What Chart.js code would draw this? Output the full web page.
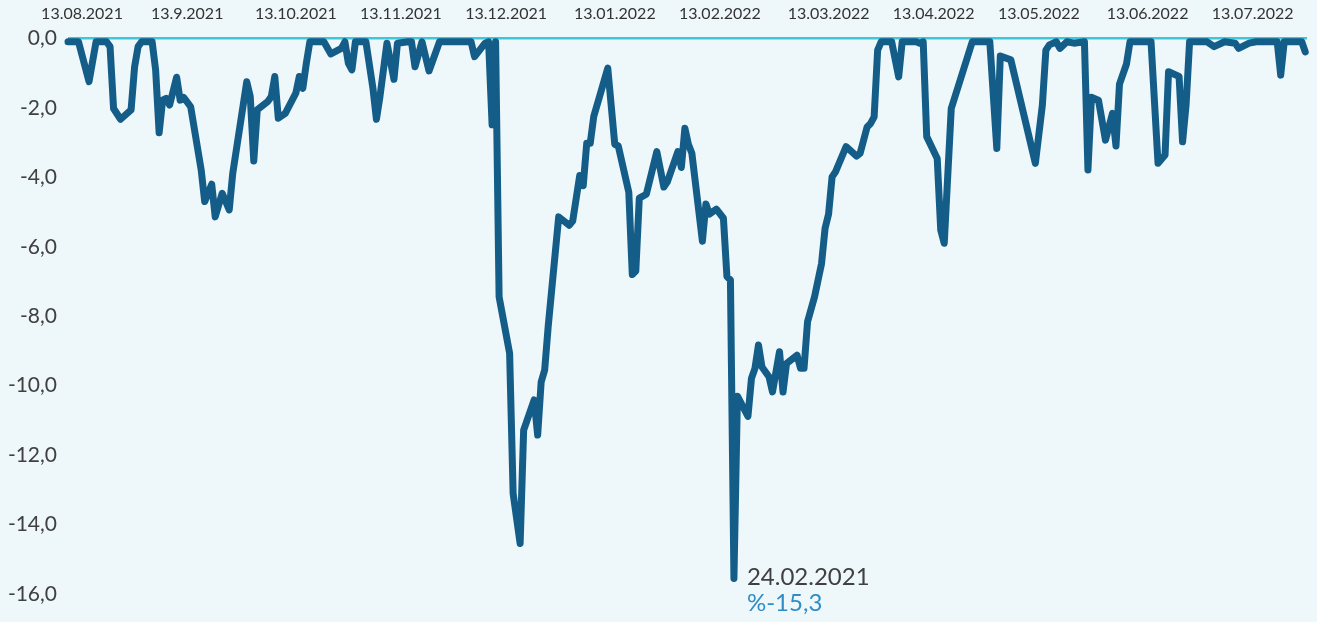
<!DOCTYPE html>
<html><head><meta charset="utf-8">
<script src="https://cdn.jsdelivr.net/npm/chart.js@4.4.1/dist/chart.umd.min.js"></script>
<style>
html,body{margin:0;padding:0;background:#eef7fa;}
#wrap{position:relative;width:1317px;height:622px;}
</style></head><body>
<div id="wrap"><canvas id="c"></canvas></div>
<script>
const tickLabels = ['13.08.2021','13.9.2021','13.10.2021','13.11.2021','13.12.2021','13.01.2022','13.02.2022','13.03.2022','13.04.2022','13.05.2022','13.06.2022','13.07.2022'];
const tickPositions = [4,34,65,95,125,156,186,217,247,277,308,338];
const yTickValues = [0,-2,-4,-6,-8,-10,-12,-14,-16];

const pointIndex = [0,3,6,8,11,12,13,15,18,19,20,21,24,25,26,27,28,29,31,32,33,35,38,39,41,42,44,46,47,51,52,53,54,57,58,59,60,62,65,66,67,68,69,73,75,78,79,80,81,82,85,87,88,89,91,93,94,97,98,99,101,103,106,115,116,119,120,121,122,123,126,127,129,130,133,134,135,136,137,140,143,144,146,147,148,149,150,154,156,157,160,161,162,163,165,168,170,171,174,175,176,177,178,181,182,183,185,187,188,189,190,191,194,195,196,197,198,200,201,203,204,205,208,209,210,211,213,215,216,217,218,219,222,225,226,228,229,230,231,232,235,237,238,242,243,244,245,248,249,250,252,258,263,265,266,269,276,278,279,280,282,283,285,287,290,291,292,294,296,298,299,300,302,303,309,311,313,314,317,318,319,320,325,327,330,333,334,337,339,345,346,347,352,353];
const drawdown = [-0.1,-0.1,-1.25,-0.1,-0.1,-0.24,-2.02,-2.33,-2.06,-0.82,-0.24,-0.1,-0.1,-0.91,-2.72,-1.78,-1.73,-1.92,-1.12,-1.78,-1.70,-1.97,-3.79,-4.70,-4.20,-5.14,-4.46,-4.94,-3.89,-1.25,-1.68,-3.53,-2.06,-1.82,-1.68,-1.10,-2.30,-2.16,-1.58,-1.10,-1.44,-0.72,-0.1,-0.1,-0.45,-0.29,-0.1,-0.72,-0.91,-0.1,-0.1,-1.44,-2.33,-1.68,-0.14,-1.18,-0.14,-0.1,-0.1,-0.82,-0.1,-0.94,-0.1,-0.1,-0.53,-0.14,-0.1,-2.49,-0.1,-7.44,-9.07,-13.10,-14.54,-11.28,-10.41,-11.42,-9.89,-9.55,-8.30,-5.14,-5.38,-5.26,-3.95,-4.24,-3.02,-3.02,-2.25,-0.86,-3.05,-3.10,-4.43,-6.80,-6.70,-4.60,-4.49,-3.26,-4.28,-4.13,-3.26,-3.72,-2.59,-3.05,-3.31,-5.84,-4.77,-5.06,-4.92,-5.18,-6.86,-6.96,-15.55,-10.30,-10.88,-9.79,-9.50,-8.83,-9.46,-9.74,-10.18,-9.02,-10.18,-9.36,-9.12,-9.50,-9.50,-8.16,-7.44,-6.48,-5.47,-5.06,-3.99,-3.84,-3.12,-3.39,-3.31,-2.55,-2.45,-2.26,-0.34,-0.1,-0.1,-1.11,-0.1,-0.1,-0.14,-0.1,-2.83,-3.46,-5.52,-5.90,-2.02,-0.1,-0.1,-3.17,-0.51,-0.62,-3.60,-1.92,-0.34,-0.19,-0.1,-0.29,-0.1,-0.14,-0.1,-3.79,-1.70,-1.78,-2.93,-2.16,-3.10,-1.32,-0.74,-0.1,-0.1,-3.60,-3.36,-0.96,-1.10,-2.98,-1.92,-0.1,-0.1,-0.24,-0.1,-0.14,-0.29,-0.14,-0.1,-0.1,-1.06,-0.1,-0.1,-0.39];

const troughDate = '24.02.2021';
const troughValue = -15.3;

const fmt = v => v.toFixed(1).replace('.', ',');

const troughLabel = {
  id: 'troughLabel',
  afterDatasetsDraw(chart) {
    const meta = chart.getDatasetMeta(0);
    let mi = 0;
    drawdown.forEach((v, i) => { if (v < drawdown[mi]) mi = i; });
    const pt = meta.data[mi];
    const ctx = chart.ctx;
    ctx.save();
    ctx.font = '24px Lato';
    ctx.textBaseline = 'middle';
    ctx.textAlign = 'left';
    ctx.fillStyle = '#404040';
    ctx.fillText(troughDate, pt.x + 13, pt.y - 1);
    ctx.fillStyle = '#2f8cc6';
    ctx.fillText('%' + fmt(troughValue), pt.x + 13, pt.y + 25);
    ctx.restore();
  }
};

new Chart(document.getElementById('c'), {
  type: 'line',
  data: {
    datasets: [{
      data: pointIndex.map((x, i) => ({ x: x, y: drawdown[i] })),
      borderColor: '#145d88',
      borderWidth: 7,
      pointRadius: 0,
      tension: 0,
      borderJoinStyle: 'round',
      borderCapStyle: 'round',
      clip: false,
      fill: false
    }]
  },
  options: {
    responsive: true,
    maintainAspectRatio: false,
    animation: false,
    layout: { padding: { top: 0, left: 0, right: 10, bottom: 7 } },
    plugins: { legend: { display: false }, tooltip: { enabled: false } },
    scales: {
      x: {
        type: 'linear', position: 'top', min: 0, max: 353.5,
        afterFit(s) { s.height = 38.3; s.paddingLeft = 0; s.paddingRight = 0; },
        afterBuildTicks(s) { s.ticks = tickPositions.map(v => ({ value: v })); },
        grid: { display: false, drawTicks: false },
        border: { display: false },
        ticks: { autoSkip: false, maxRotation: 0, minRotation: 0, padding: 15, color: '#333333',
                 font: { family: 'Lato', size: 16 }, callback: (v, i) => tickLabels[i] }
      },
      y: {
        min: -16.6, max: 0,
        afterFit(s) { s.width = 68; s.paddingTop = 0; s.paddingBottom = 0; },
        afterBuildTicks(s) { s.ticks = yTickValues.map(v => ({ value: v })); },
        grid: { drawTicks: false, lineWidth: 2.5,
                color: c => (c.tick && c.tick.value === 0) ? '#3cc7dc' : 'rgba(0,0,0,0)' },
        border: { display: false },
        ticks: { padding: 11, color: '#404040', font: { family: 'Lato', size: 21 }, callback: v => fmt(v) }
      }
    }
  },
  plugins: [troughLabel]
});
</script>
</body></html>
